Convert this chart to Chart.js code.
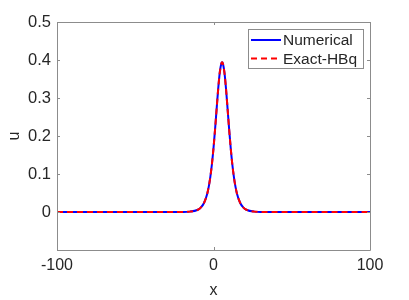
<!DOCTYPE html>
<html><head><meta charset="utf-8">
<script src="https://cdn.jsdelivr.net/npm/chart.js@4"></script>
<style>html,body{margin:0;padding:0;background:#fff}#wrap{width:409px;height:300px}</style>
</head><body><div id="wrap"><canvas id="c" width="409" height="300"></canvas></div>
<script>
const xValues   = [-100, -30, -20, -15, -10, -8, -6, -4, -3, -2, -1, 0, 1, 2, 3, 4, 5, 5.5, 6, 7, 8, 9, 10, 11, 12, 13, 14, 15, 17, 19, 21, 26, 31, 41, 100];
const numerical = [0, 0, 0.0002, 0.001, 0.0059, 0.012, 0.0243, 0.0483, 0.0674, 0.093, 0.1263, 0.168, 0.2173, 0.2713, 0.3239, 0.3666, 0.3909, 0.394, 0.3909, 0.3666, 0.3239, 0.2713, 0.2173, 0.168, 0.1263, 0.093, 0.0674, 0.0483, 0.0243, 0.012, 0.0059, 0.001, 0.0002, 0, 0];
const exactHBq  = [0, 0, 0.0002, 0.001, 0.0059, 0.012, 0.0243, 0.0483, 0.0674, 0.093, 0.1263, 0.168, 0.2173, 0.2713, 0.3239, 0.3666, 0.3909, 0.394, 0.3909, 0.3666, 0.3239, 0.2713, 0.2173, 0.168, 0.1263, 0.093, 0.0674, 0.0483, 0.0243, 0.012, 0.0059, 0.001, 0.0002, 0, 0];
const seriesNames = ['Numerical', 'Exact-HBq'];
const xTicks = [-100, 0, 100];
const yTicks = [-0.1, 0, 0.1, 0.2, 0.3, 0.4, 0.5];

const FONT = '"Liberation Sans", Arial, Helvetica, sans-serif';
const TXT = '#262626';
const AX = '#8c8c8c';

const boxPlugin = {
  id: 'boxTicks',
  afterDatasetsDraw(chart) {
    const ctx = chart.ctx, a = chart.chartArea;
    const xs = chart.scales.x, ys = chart.scales.y;
    ctx.save();
    ctx.strokeStyle = AX; ctx.lineWidth = 1;
    ctx.beginPath();
    ctx.rect(Math.round(a.left) + 0.5, Math.round(a.top) + 0.5, Math.round(a.right - a.left), Math.round(a.bottom - a.top));
    ctx.stroke();
    ctx.beginPath();
    xTicks.forEach(v => {
      const px = Math.round(xs.getPixelForValue(v)) + 0.5;
      ctx.moveTo(px, a.bottom); ctx.lineTo(px, a.bottom - 3);
      ctx.moveTo(px, a.top); ctx.lineTo(px, a.top + 3);
    });
    yTicks.forEach(v => {
      const py = Math.round(ys.getPixelForValue(v)) + 0.5;
      ctx.moveTo(a.left, py); ctx.lineTo(a.left + 3, py);
      ctx.moveTo(a.right, py); ctx.lineTo(a.right - 3, py);
    });
    ctx.stroke();
    ctx.restore();
  },
  afterDraw(chart) {
    const ctx = chart.ctx;
    const ds = chart.data.datasets;
    const bx = 248, by = 29, bw = 115, bh = 39;
    ctx.save();
    ctx.fillStyle = '#fff';
    ctx.fillRect(bx, by, bw, bh);
    ctx.strokeStyle = AX; ctx.lineWidth = 1;
    ctx.strokeRect(bx + 0.5, by + 0.5, bw, bh);
    ctx.font = '15.5px ' + FONT;
    ctx.textBaseline = 'middle';
    ctx.fillStyle = TXT;
    [0, 1].forEach(i => {
      const y = by + 11 + i * 18.5;
      ctx.strokeStyle = ds[i].borderColor;
      ctx.lineWidth = 2;
      ctx.setLineDash(ds[i].borderDash || []);
      ctx.beginPath(); ctx.moveTo(bx + 3, y); ctx.lineTo(bx + 33, y); ctx.stroke();
      ctx.setLineDash([]);
      ctx.fillText(ds[i].label, bx + 35, y + 1);
    });
    ctx.restore();
  }
};

new Chart(document.getElementById('c'), {
  type: 'line',
  data: {
    datasets: [
      { label: seriesNames[0], data: xValues.map((x, i) => ({x, y: numerical[i]})), borderColor: '#0000ff', borderWidth: 2, pointRadius: 0, cubicInterpolationMode: 'monotone', order: 2 },
      { label: seriesNames[1], data: xValues.map((x, i) => ({x, y: exactHBq[i]})), borderColor: '#ff0000', borderWidth: 2, borderDash: [6, 4], pointRadius: 0, cubicInterpolationMode: 'monotone', order: 1 }
    ]
  },
  options: {
    responsive: false, animation: false, devicePixelRatio: 1,
    layout: { padding: { left: 0, right: 39, top: 22, bottom: 0 } },
    plugins: { legend: { display: false }, tooltip: { enabled: false } },
    scales: {
      x: {
        type: 'linear', min: -100, max: 100,
        afterBuildTicks: s => { s.ticks = xTicks.map(v => ({ value: v })); },
        afterFit: s => { s.height = 50; },
        grid: { display: false, drawTicks: false }, border: { display: false },
        ticks: { color: TXT, font: { family: FONT, size: 16 }, padding: 6, maxRotation: 0, autoSkip: false, callback: v => String(v) },
        title: { display: true, text: 'x', color: TXT, font: { family: FONT, size: 16 }, padding: { top: 0, bottom: 0 } }
      },
      y: {
        type: 'linear', min: -0.1, max: 0.5,
        afterBuildTicks: s => { s.ticks = yTicks.map(v => ({ value: v })); },
        afterFit: s => { s.width = 57; },
        grid: { display: false, drawTicks: false }, border: { display: false },
        ticks: { color: TXT, font: { family: FONT, size: 16.5 }, padding: 6, autoSkip: false,
          callback: v => (v < -0.05 ? '' : (Math.abs(v) < 1e-9 ? '0' : v.toFixed(1))) },
        title: { display: true, text: 'u', color: TXT, font: { family: FONT, size: 16 }, padding: { top: 5, bottom: 0 } }
      }
    }
  },
  plugins: [boxPlugin]
});
</script>
</body></html>
